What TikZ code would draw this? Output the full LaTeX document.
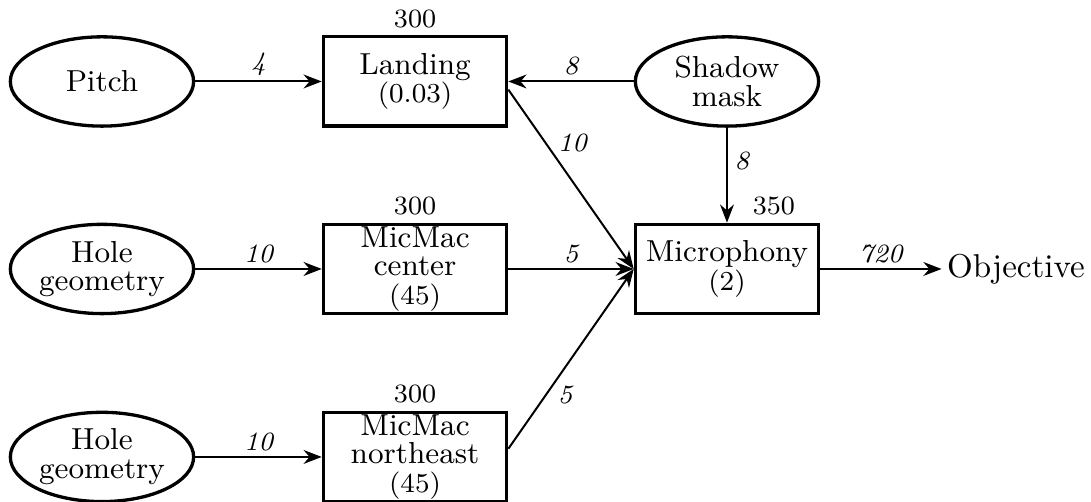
\documentclass[tikz,border=0pt]{standalone}
\usepackage{amsmath}
\usetikzlibrary{arrows.meta}
\usetikzlibrary{shapes.geometric}
\newcommand{\subval}[1]{{\fontsize{8.3}{8.7}\selectfont(#1)}}
\tikzset{
  block/.style={draw, rectangle, line width=1pt, minimum width=1.95cm, minimum height=0.95cm,
    inner sep=0.5pt, align=center, font=\fontsize{9.2}{8.7}\selectfont},
  source/.style={draw, ellipse, line width=1pt, minimum width=1.95cm, minimum height=0.95cm,
    inner xsep=0pt, inner ysep=0.5pt, align=center, font=\fontsize{9.2}{8.7}\selectfont},
  flow/.style={line width=0.6pt, -{Stealth[length=5.5pt,width=4.2pt,inset=1.8pt]}},
  wgt/.style={font=\footnotesize\itshape, inner sep=1.5pt},
  cost/.style={label={[font=\footnotesize, inner sep=2pt]above:#1}}
}

\begin{document}
\begin{tikzpicture}
	\useasboundingbox (0,0) rectangle (11.608,-5.331);
	% inputs
	\node [source] (pitch) at (1.085,-0.867) {Pitch};
	\node [source] (holeA) at (1.085,-2.862) {Hole\\geometry};
	\node [source] (holeB) at (1.085,-4.862) {Hole\\geometry};
	\node [source] (shadow) at (7.735,-0.867) {Shadow\\mask};
	% blocks
	\node [block, cost=300] (landing) at (4.416,-0.867) {Landing\\\subval{0.03}};
	\node [block, cost=300] (center) at (4.416,-2.862) {MicMac\\center\\\subval{45}};
	\node [block, cost=300] (northeast) at (4.416,-4.862) {MicMac\\northeast\\\subval{45}};
	\node [block, label={[font=\footnotesize, inner sep=2pt, xshift=0.5cm]above:350}] (micro) at (7.735,-2.862) {Microphony\\\subval{2}};
	\node [inner sep=1.5pt] (obj) at (10.81,-2.862) {Objective};
	% flows
	\draw [flow] (pitch) -- (landing) node [midway, above, wgt] {4};
	\draw [flow] (shadow) -- (landing) node [midway, above, wgt] {8};
	\draw [flow] (landing.-5) -- (micro.west) node [pos=0.3, right, wgt, inner xsep=3.3pt] {10};
	\draw [flow] (shadow) -- (micro) node [pos=0.35, right, wgt, inner xsep=2pt] {8};
	\draw [flow] (holeA) -- (center) node [midway, above, wgt] {10};
	\draw [flow] (center) -- (micro) node [midway, above, wgt] {5};
	\draw [flow] (holeB) -- (northeast) node [midway, above, wgt] {10};
	\draw [flow] (northeast.5) -- (micro.west) node [pos=0.3, right, wgt, inner xsep=3.3pt] {5};
	\draw [flow] (micro) -- (obj) node [midway, above, wgt] {720};
\end{tikzpicture}
\end{document}
